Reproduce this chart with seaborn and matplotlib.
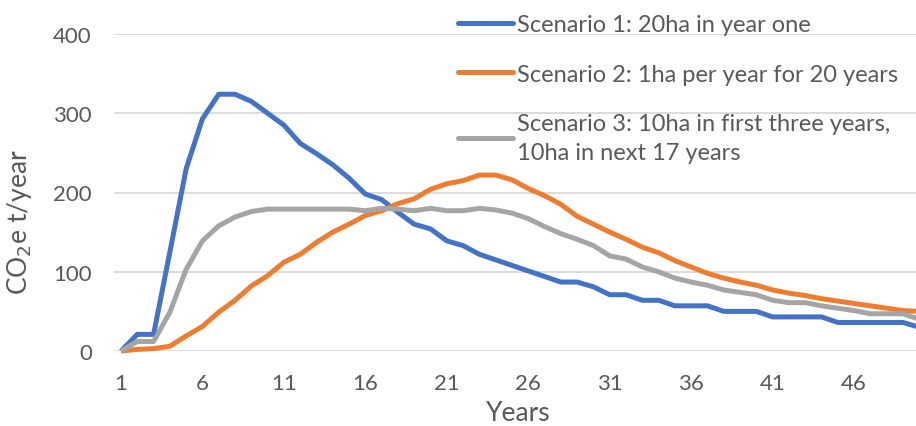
import matplotlib
matplotlib.use("Agg")
import matplotlib.pyplot as plt
import pandas as pd
import seaborn as sns

# data
years = list(range(1, 51))
scenario_names = ["Scenario 1: 20ha in year one",
                  "Scenario 2: 1ha per year for 20 years",
                  "Scenario 3: 10ha in first three years,\n10ha in next 17 years"]
scenario_1 = [0, 21, 21, 125, 230, 293, 324, 324, 315, 300,
              285, 262, 249, 235, 218, 198, 191, 175, 160, 154,
              139, 133, 122, 115, 108, 101, 94, 87, 87, 81,
              71, 71, 64, 64, 57, 57, 57, 50, 50, 50,
              43, 43, 43, 43, 36, 36, 36, 36, 36, 30]
scenario_2 = [0, 2, 3, 6, 19, 31, 49, 64, 82, 95,
              112, 122, 137, 150, 160, 171, 177, 186, 192, 204,
              211, 215, 222, 222, 216, 205, 196, 185, 170, 160,
              150, 141, 131, 124, 114, 106, 98, 92, 87, 83,
              77, 73, 70, 66, 63, 60, 57, 54, 51, 50]
scenario_3 = [0, 12, 12, 49, 103, 139, 158, 169, 176, 179,
              179, 179, 179, 179, 179, 177, 180, 179, 177, 180,
              177, 177, 180, 178, 174, 167, 157, 148, 141, 133,
              120, 116, 106, 100, 92, 87, 83, 77, 74, 71,
              64, 61, 61, 57, 54, 51, 47, 47, 47, 40]
x_ticks = [1, 6, 11, 16, 21, 26, 31, 36, 41, 46]
y_ticks = [0, 100, 200, 300, 400]
colors = ["#4472C4", "#ED7D31", "#A5A5A5"]

df = pd.DataFrame({
    "Years": years * 3,
    "CO2": scenario_1 + scenario_2 + scenario_3,
    "Scenario": [scenario_names[0]] * 50 + [scenario_names[1]] * 50 + [scenario_names[2]] * 50,
})

sns.set_style("white")
plt.rcParams["font.family"] = ["Lato", "DejaVu Sans"]
text_col = "#595959"

fig = plt.figure(figsize=(9.16, 4.27), dpi=100)
ax = fig.add_axes([114 / 916, 1 - 352 / 427, 1 - 114 / 916, 317 / 427])

sns.lineplot(data=df, x="Years", y="CO2", hue="Scenario", palette=colors,
             linewidth=3.6, ax=ax, legend=False, clip_on=False,
             solid_joinstyle="round", solid_capstyle="butt")

ax.set_xlim(0.57, 49.8)
ax.set_ylim(0, 400)
ax.set_xticks(x_ticks)
ax.set_yticks(y_ticks)
ax.grid(axis="y", color="#D9D9D9", linewidth=1.3)
ax.set_axisbelow(True)
for s in ax.spines.values():
    s.set_visible(False)
ax.tick_params(length=0, labelsize=16, labelcolor=text_col)
ax.tick_params(axis="y", pad=16)
ax.tick_params(axis="x", pad=16)

ax.set_xlabel("Years", fontsize=19, color=text_col)
ax.set_ylabel("CO$_2$e t/year", fontsize=19, color=text_col)
ax.xaxis.set_label_coords(0.504, -0.155)
ax.yaxis.set_label_coords(-0.1, 0.41)

handles = [plt.Line2D([], [], color=c, linewidth=3.6, solid_capstyle="round") for c in colors]
leg = fig.legend(handles, scenario_names, loc="upper left", bbox_to_anchor=(456 / 916, 1 - 13 / 427),
                 frameon=False, fontsize=17, handlelength=2.3, handletextpad=0.2,
                 labelspacing=1.2, borderaxespad=0, borderpad=0.1)
for t in leg.get_texts():
    t.set_color(text_col)
    t.set_linespacing(1.45)

fig.savefig("out.png", dpi=100)
